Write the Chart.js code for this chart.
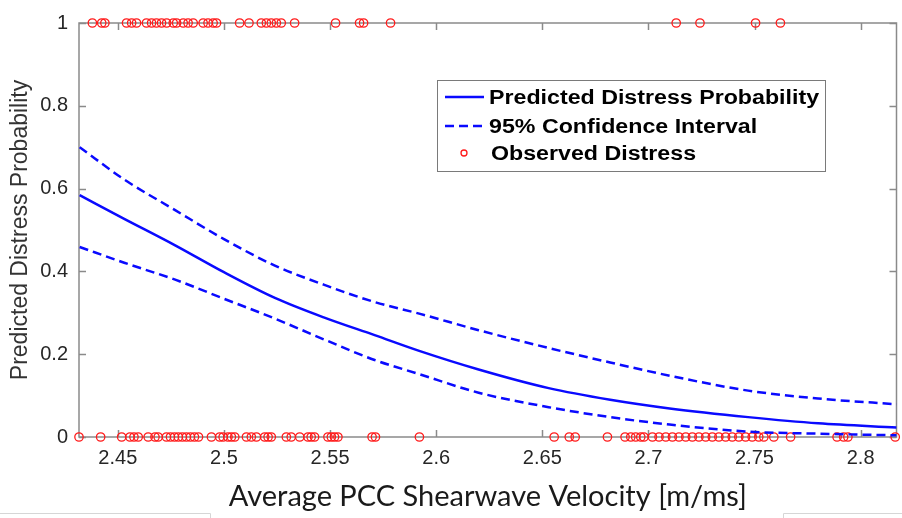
<!DOCTYPE html>
<html>
<head>
<meta charset="utf-8">
<script src="https://cdn.jsdelivr.net/npm/chart.js@4.4.1/dist/chart.umd.min.js"></script>
<style>
  html, body { margin: 0; padding: 0; background: #fff; }
</style>
</head>
<body>
<canvas id="fit" width="902" height="518"></canvas>
<script>
// logistic fit of distress vs. shear wave velocity
var velocity  = [2.432, 2.453, 2.477, 2.500, 2.524, 2.547, 2.571, 2.592, 2.620, 2.653, 2.682, 2.710, 2.747, 2.780, 2.817];
var predicted = [0.584, 0.527, 0.463, 0.398, 0.336, 0.289, 0.246, 0.208, 0.163, 0.118, 0.090, 0.069, 0.048, 0.033, 0.023];
var upperCI   = [0.700, 0.622, 0.548, 0.478, 0.414, 0.368, 0.326, 0.298, 0.258, 0.215, 0.180, 0.148, 0.112, 0.093, 0.079];
var lowerCI   = [0.459, 0.421, 0.380, 0.334, 0.286, 0.236, 0.186, 0.152, 0.107, 0.072, 0.048, 0.030, 0.013, 0.008, 0.004];

// sections with observed distress (1) and without (0)
var distressed = [2.4380, 2.4424, 2.4439, 2.4541, 2.4565, 2.4588, 2.4635, 2.4659, 2.4682, 2.4706,
  2.4730, 2.4761, 2.4777, 2.4808, 2.4831, 2.4855, 2.4902, 2.4925, 2.4949, 2.4965,
  2.5074, 2.5118, 2.5176, 2.5200, 2.5223, 2.5247, 2.5270, 2.5333, 2.5526, 2.5639,
  2.5658, 2.5785, 2.7131, 2.7243, 2.7505, 2.7622];
var intact = [2.4317, 2.4419, 2.4518, 2.4557, 2.4576, 2.4596, 2.4643, 2.4675, 2.4690, 2.4729,
  2.4748, 2.4767, 2.4785, 2.4804, 2.4823, 2.4842, 2.4861, 2.4880, 2.4941, 2.4980,
  2.4996, 2.5019, 2.5035, 2.5051, 2.5106, 2.5129, 2.5153, 2.5192, 2.5208, 2.5223,
  2.5294, 2.5317, 2.5357, 2.5396, 2.5411, 2.5427, 2.5490, 2.5506, 2.5521, 2.5537,
  2.5698, 2.5714, 2.5921, 2.6556, 2.6627, 2.6655, 2.6807, 2.6890, 2.6917, 2.6940,
  2.6964, 2.6979, 2.7019, 2.7050, 2.7082, 2.7113, 2.7144, 2.7176, 2.7207, 2.7238,
  2.7270, 2.7301, 2.7332, 2.7364, 2.7395, 2.7426, 2.7458, 2.7489, 2.7520, 2.7544,
  2.7591, 2.7670, 2.7889, 2.7920, 2.7940, 2.8163];

var xTicks = [2.45, 2.5, 2.55, 2.6, 2.65, 2.7, 2.75, 2.8];
var yTicks = [0, 0.2, 0.4, 0.6, 0.8, 1];

var BLUE = '#0a0aff';
var RED = '#ff1a1a';
var AXIS = '#8a8a8a';

function pairs(xs, ys) {
  return xs.map(function (x, i) { return { x: x, y: ys[i] }; });
}

var observed = distressed.map(function (x) { return { x: x, y: 1 }; })
  .concat(intact.map(function (x) { return { x: x, y: 0 }; }));

// box, inward ticks, legend and the slide edge lines
var matlabAxes = {
  id: 'matlabAxes',
  beforeDatasetsDraw: function (chart) {
    var ctx = chart.ctx, a = chart.chartArea;
    var xs = chart.scales.x, ys = chart.scales.y;
    var L = 7;
    ctx.save();
    ctx.strokeStyle = AXIS;
    ctx.lineWidth = 1.5;
    ctx.strokeRect(a.left, a.top, a.right - a.left, a.bottom - a.top);
    ctx.beginPath();
    xTicks.forEach(function (t) {
      var px = Math.round(xs.getPixelForValue(t)) + 0.5;
      ctx.moveTo(px, a.bottom); ctx.lineTo(px, a.bottom - L);
      ctx.moveTo(px, a.top); ctx.lineTo(px, a.top + L);
    });
    yTicks.forEach(function (t) {
      var py = Math.round(ys.getPixelForValue(t)) + 0.5;
      ctx.moveTo(a.left, py); ctx.lineTo(a.left + L, py);
      ctx.moveTo(a.right, py); ctx.lineTo(a.right - L, py);
    });
    ctx.stroke();
    ctx.restore();
  },
  afterDraw: function (chart) {
    var ctx = chart.ctx;
    var ds = chart.data.datasets;
    ctx.save();
    // legend box
    var bx = 437.5, by = 80.5, bw = 388, bh = 91;
    ctx.fillStyle = '#fff';
    ctx.fillRect(bx, by, bw, bh);
    ctx.strokeStyle = '#7a7a7a';
    ctx.lineWidth = 1;
    ctx.strokeRect(bx, by, bw, bh);

    var rows = [97, 126, 153];
    ctx.lineWidth = 2.5;
    ctx.strokeStyle = BLUE;
    ctx.beginPath(); ctx.moveTo(445, rows[0]); ctx.lineTo(484, rows[0]); ctx.stroke();
    ctx.setLineDash([9, 5]);
    ctx.beginPath(); ctx.moveTo(445, rows[1]); ctx.lineTo(484, rows[1]); ctx.stroke();
    ctx.setLineDash([]);
    ctx.lineWidth = 1.3;
    ctx.strokeStyle = RED;
    ctx.beginPath(); ctx.arc(464, rows[2], 3, 0, Math.PI * 2); ctx.stroke();

    // legend labels are set a bit wide
    ctx.fillStyle = '#000';
    ctx.font = 'bold 20px "Liberation Sans", Arial, sans-serif';
    ctx.textBaseline = 'middle';
    [[ds[0].label, 489, rows[0]], [ds[1].label, 489, rows[1]], [ds[3].label, 491, rows[2]]]
      .forEach(function (r) {
        ctx.save();
        ctx.translate(r[1], r[2] + 1);
        ctx.scale(1.16, 1);
        ctx.fillText(r[0], 0, 0);
        ctx.restore();
      });

    // slide frame remnants along the bottom edge
    ctx.strokeStyle = '#d6d6d6';
    ctx.lineWidth = 1;
    ctx.beginPath();
    ctx.moveTo(0, 513.5); ctx.lineTo(210.5, 513.5); ctx.lineTo(210.5, 518);
    ctx.moveTo(902, 513.5); ctx.lineTo(783.5, 513.5); ctx.lineTo(783.5, 518);
    ctx.stroke();
    ctx.restore();
  }
};

new Chart(document.getElementById('fit'), {
  type: 'scatter',
  data: {
    datasets: [{
      label: 'Predicted Distress Probability',
      data: pairs(velocity, predicted),
      showLine: true,
      borderColor: BLUE,
      borderWidth: 2.5,
      pointRadius: 0,
      cubicInterpolationMode: 'monotone'
    }, {
      label: '95% Confidence Interval',
      data: pairs(velocity, upperCI),
      showLine: true,
      borderColor: BLUE,
      borderWidth: 2.5,
      borderDash: [9, 5],
      pointRadius: 0,
      cubicInterpolationMode: 'monotone'
    }, {
      label: '95% Confidence Interval',
      data: pairs(velocity, lowerCI),
      showLine: true,
      borderColor: BLUE,
      borderWidth: 2.5,
      borderDash: [9, 5],
      pointRadius: 0,
      cubicInterpolationMode: 'monotone'
    }, {
      label: 'Observed Distress',
      data: observed,
      pointRadius: 4.2,
      pointBorderWidth: 1.3,
      pointBorderColor: RED,
      pointBackgroundColor: 'rgba(0,0,0,0)',
      clip: false
    }]
  },
  options: {
    responsive: false,
    animation: false,
    devicePixelRatio: 1,
    layout: { padding: { left: 0, right: 5, top: 17, bottom: 0 } },
    plugins: { legend: { display: false }, tooltip: { enabled: false } },
    scales: {
      x: {
        type: 'linear',
        min: 2.4317,
        max: 2.8169,
        afterBuildTicks: function (s) { s.ticks = xTicks.map(function (v) { return { value: v }; }); },
        afterFit: function (s) { s.height = 81; },
        grid: { display: false, drawTicks: false },
        border: { display: false },
        ticks: {
          padding: 9,
          color: '#262626',
          font: { family: '"Liberation Sans", Arial, sans-serif', size: 20 },
          maxRotation: 0,
          callback: function (v) { return String(v); }
        },
        title: {
          display: true,
          text: 'Average PCC Shearwave Velocity [m/ms]',
          color: '#1a1a1a',
          font: { family: 'Lato, sans-serif', size: 29 },
          padding: { top: 0, bottom: 4 }
        }
      },
      y: {
        min: 0,
        max: 1,
        afterBuildTicks: function (s) { s.ticks = yTicks.map(function (v) { return { value: v }; }); },
        afterFit: function (s) { s.width = 79; },
        grid: { display: false, drawTicks: false },
        border: { display: false },
        ticks: {
          padding: 11,
          color: '#262626',
          font: { family: '"Liberation Sans", Arial, sans-serif', size: 20 },
          callback: function (v) { return String(v); }
        },
        title: {
          display: true,
          text: 'Predicted Distress Probability',
          color: '#333',
          font: { family: '"Liberation Sans", Arial, sans-serif', size: 23 },
          padding: { top: 7, bottom: 0 }
        }
      }
    }
  },
  plugins: [matlabAxes]
});
</script>
</body>
</html>
